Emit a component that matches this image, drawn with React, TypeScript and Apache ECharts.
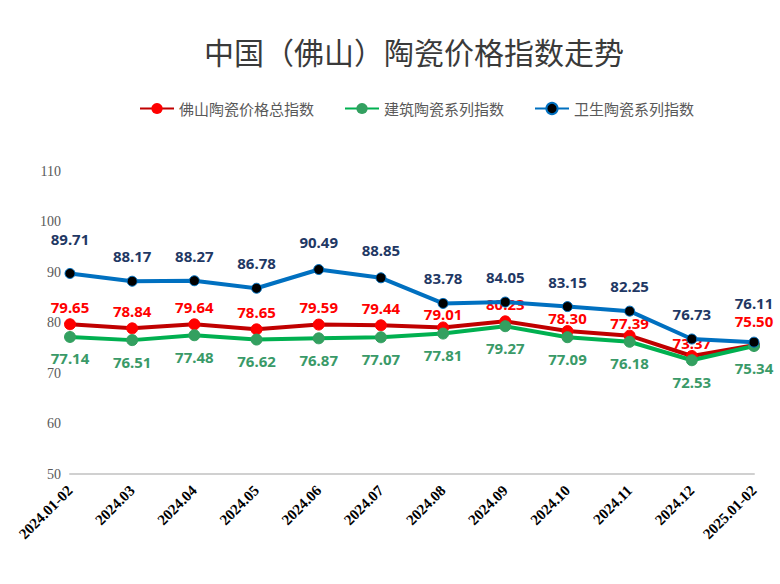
import React, { useEffect, useRef } from "react";
import * as echarts from "echarts";

const categories = [
  "2024.01-02", "2024.03", "2024.04", "2024.05", "2024.06", "2024.07",
  "2024.08", "2024.09", "2024.10", "2024.11", "2024.12", "2025.01-02",
];
const totalIndex = [79.65, 78.84, 79.64, 78.65, 79.59, 79.44, 79.01, 80.23, 78.30, 77.39, 73.37, 75.50];
const buildingIndex = [77.14, 76.51, 77.48, 76.62, 76.87, 77.07, 77.81, 79.27, 77.09, 76.18, 72.53, 75.34];
const sanitaryIndex = [89.71, 88.17, 88.27, 86.78, 90.49, 88.85, 83.78, 84.05, 83.15, 82.25, 76.73, 76.11];
const seriesNames = ["佛山陶瓷价格总指数", "建筑陶瓷系列指数", "卫生陶瓷系列指数"];
const yTicks = { min: 50, max: 110, interval: 10 };

export default function App() {
  const ref = useRef<HTMLDivElement>(null);
  useEffect(() => {
    document.body.style.margin = "0";
    const chart = echarts.init(ref.current!, undefined, { renderer: "svg" });
    const labelFont = {
      fontFamily: "Noto Sans",
      fontWeight: "bold" as const,
      fontSize: 15,
    };
    const fmt = (p: any) => Number(p.value).toFixed(2);
    // manual label nudges (px, positive = farther from the line), mimicking the reference layout
    const blueNudge: Record<number, number> = { 0: 9, 4: 3, 5: 3, 11: 14 };
    const redNudge: Record<number, number> = { 6: -4, 8: -4, 9: -5, 10: -5, 11: 7 };
    const withNudge = (vals: number[], nudge: Record<number, number>, base: number) =>
      vals.map((v, i) =>
        nudge[i] !== undefined ? { value: v, label: { distance: base + nudge[i] } } : v
      );
    chart.setOption({
      animation: false,
      backgroundColor: "#ffffff",
      title: {
        text: "中国（佛山）陶瓷价格指数走势",
        left: 199,
        top: 31,
        textStyle: {
          fontFamily: "Noto Sans CJK SC",
          fontWeight: "normal",
          fontSize: 30,
          color: "#3a3a3a",
        },
      },
      legend: {
        top: 96,
        left: 134,
        itemWidth: 34,
        itemHeight: 14,
        itemGap: 30,
        textStyle: { fontFamily: "Noto Sans CJK SC", fontSize: 15, color: "#595959" },
        data: seriesNames,
      },
      grid: { left: 70, right: 26, top: 171, bottom: 110, containLabel: false },
      xAxis: {
        type: "category",
        data: categories,
        boundaryGap: false,
        axisLine: { show: true, lineStyle: { color: "#d0d0d0", width: 2 } },
        axisTick: { show: false },
        splitLine: { show: false },
        axisLabel: {
          rotate: 45,
          interval: 0,
          margin: 14,
          fontFamily: "Liberation Serif",
          fontWeight: "bold",
          fontSize: 15,
          color: "#000000",
        },
      },
      yAxis: {
        type: "value",
        min: yTicks.min,
        max: yTicks.max,
        interval: yTicks.interval,
        axisLine: { show: false },
        axisTick: { show: false },
        splitLine: { show: false },
        axisLabel: {
          margin: 9,
          fontFamily: "Liberation Serif",
          fontSize: 14,
          color: "#595959",
        },
      },
      series: [
        {
          name: seriesNames[0],
          type: "line",
          data: withNudge(totalIndex, redNudge, 4),
          symbol: "circle",
          symbolSize: 11,
          lineStyle: { color: "#C00000", width: 4 },
          itemStyle: { color: "#FF0000", borderColor: "#FF0000" },
          label: {
            show: true,
            position: "top",
            distance: 4,
            color: "#FF0000",
            formatter: fmt,
            ...labelFont,
          },
          z: 2,
        },
        {
          name: seriesNames[1],
          type: "line",
          data: buildingIndex,
          symbol: "circle",
          symbolSize: 11,
          lineStyle: { color: "#00B050", width: 4 },
          itemStyle: { color: "#33A060", borderColor: "#33A060" },
          label: {
            show: true,
            position: "bottom",
            distance: 8,
            color: "#3A9A68",
            formatter: fmt,
            ...labelFont,
          },
          z: 3,
        },
        {
          name: seriesNames[2],
          type: "line",
          data: withNudge(sanitaryIndex, blueNudge, 12),
          symbol: "circle",
          symbolSize: 10,
          lineStyle: { color: "#0070C0", width: 4 },
          itemStyle: { color: "#000000", borderColor: "#0070C0", borderWidth: 1 },
          label: {
            show: true,
            position: "top",
            distance: 12,
            color: "#1F3864",
            formatter: fmt,
            ...labelFont,
          },
          z: 4,
        },
      ],
    });
    return () => chart.dispose();
  }, []);
  return <div ref={ref} style={{ width: 780, height: 584 }} />;
}
